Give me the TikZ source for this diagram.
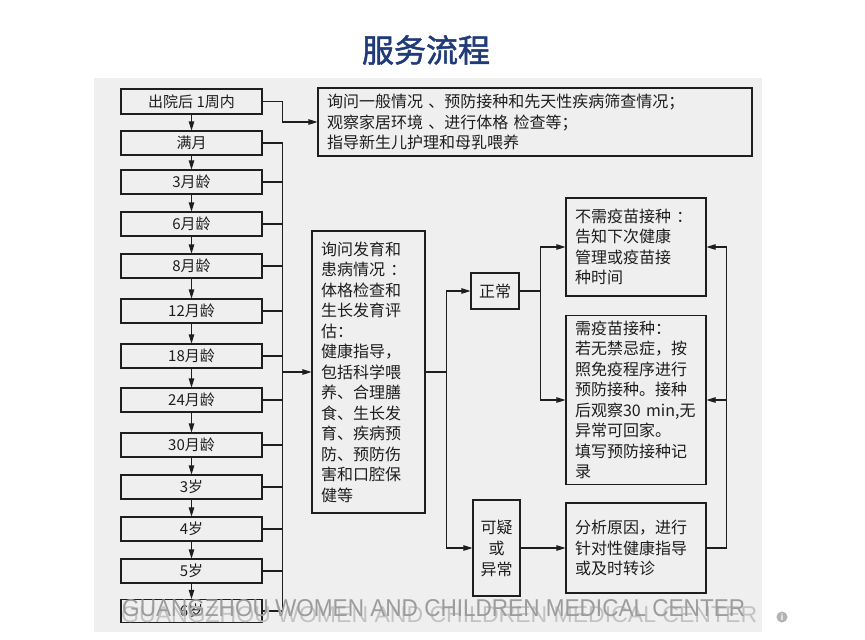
\documentclass[tikz,border=0pt]{standalone}
\usepackage{fontspec}
\setmainfont{Noto Sans CJK SC}
\newfontfamily\titlefont{Noto Sans CJK SC}[FakeBold=1.6]
\newfontfamily\wmfont{Liberation Sans}
\usetikzlibrary{arrows.meta,calc}
\definecolor{panelgray}{HTML}{EFEFEF}
\definecolor{titleblue}{HTML}{213B78}
\definecolor{inkc}{HTML}{1E1E1E}
\definecolor{wmgray}{HTML}{9C9C9C}
\definecolor{wmlight}{HTML}{C2C2C2}
\tikzset{
  box/.style={draw=inkc, line width=1.1pt, fill=panelgray, inner sep=0pt, text=inkc},
  agebox/.style={box, minimum width=141pt, minimum height=24pt, font=\fontsize{15pt}{18pt}\selectfont},
  txtbox/.style={box, align=left, inner xsep=9pt, inner ysep=0pt, font=\fontsize{16pt}{20.5pt}\selectfont},
  smallbox/.style={box, align=center, font=\fontsize{16pt}{21pt}\selectfont},
  ln/.style={draw=inkc, line width=1.1pt},
  arr/.style={ln, -{Triangle[length=9pt,width=5.5pt]}}
}
\begin{document}
\begin{tikzpicture}[x=1pt,y=-1pt]
\useasboundingbox (0,0) rectangle (865,640);
\fill[white] (0,0) rectangle (865,640);
\fill[panelgray] (94,78) rectangle (762,632);
\node[text=titleblue, font=\titlefont\fontsize{32pt}{36pt}\selectfont] (title) at (426,50) {服务流程};
% left column
\node[agebox, minimum height=25pt] (b1) at (191.5,101.5) {出院后 1周内};
\node[agebox] (b2) at (191.5,143) {满月};
\node[agebox] (b3) at (191.5,182) {3月龄};
\node[agebox] (b4) at (191.5,224) {6月龄};
\node[agebox] (b5) at (191.5,266) {8月龄};
\node[agebox] (b6) at (191.5,311) {12月龄};
\node[agebox] (b7) at (191.5,356) {18月龄};
\node[agebox] (b8) at (191.5,400) {24月龄};
\node[agebox] (b9) at (191.5,445) {30月龄};
\node[agebox] (b10) at (191.5,487) {3岁};
\node[agebox] (b11) at (191.5,529) {4岁};
\node[agebox] (b12) at (191.5,571) {5岁};
\node[agebox, minimum height=23pt] (b13) at (191.5,611) {6岁};
\foreach \a/\b in {b1/b2,b2/b3,b3/b4,b4/b5,b5/b6,b6/b7,b7/b8,b8/b9,b9/b10,b10/b11,b11/b12,b12/b13}
  \draw[arr] (\a.south) -- (\b.north);
% top box
\node[txtbox, text width=416pt, minimum height=68pt] (top) at (535,122)
 {询问一般情况 、预防接种和先天性疾病筛查情况；\\观察家居环境 、进行体格 检查等；\\指导新生儿护理和母乳喂养};
\draw[arr] (b1.east) -- ++(20,0) |- (top.west);
% middle box
\node[txtbox, text width=95pt, minimum height=282pt] (mid) at (368.5,372)
 {询问发育和\\患病情况 ：\\体格检查和\\生长发育评\\估：\\健康指导，\\包括科学喂\\养、合理膳\\食、生长发\\育、疾病预\\防、预防伤\\害和口腔保\\健等};
% bus
\draw[ln] (b2.east) -- ++(20,0) coordinate (bt);
\foreach \k in {b3,b4,b5,b6,b7,b8,b9,b10,b11,b12,b13}
  \draw[ln] (\k.east) -- (\k.east -| bt);
\draw[ln] (bt) -- (bt |- b13.east);
\draw[arr] (bt |- mid.west) -- (mid.west);
% outcomes
\node[smallbox, minimum width=48pt, minimum height=36pt] (zc) at (495,291) {正常};
\node[smallbox, minimum width=47pt, minimum height=96pt] (ky) at (496.5,548) {可疑\\或\\异常};
\draw[ln] (mid.east) -- ++(21,0) coordinate (m2);
\draw[arr] (m2) |- (zc.west);
\draw[arr] (m2) |- (ky.west);
% right boxes
\node[txtbox, text width=122pt, minimum height=98pt] (nv) at (636,247)
 {不需疫苗接种 ：\\告知下次健康\\管理或疫苗接\\种时间};
\node[txtbox, text width=122pt, minimum height=169pt] (vac) at (636,400)
 {需疫苗接种：\\若无禁忌症，按\\照免疫程序进行\\预防接种。接种\\后观察30 min,无\\异常可回家。\\填写预防接种记\\录};
\node[txtbox, text width=122pt, minimum height=90pt] (ana) at (636,548)
 {分析原因，进行\\针对性健康指导\\或及时转诊};
\draw[ln] (zc.east) -- ++(21,0) coordinate (z2);
\draw[arr] (z2) |- (nv.west);
\draw[arr] (z2) |- (vac.west);
\draw[arr] (ky.east) -- (ana.west);
\draw[ln] (ana.east) -- ++(20,0) coordinate (a2) -- (a2 |- nv.east);
\draw[arr] (a2 |- nv.east) -- (nv.east);
\draw[arr] (a2 |- vac.east) -- (vac.east);
% watermark
\node[anchor=south west, inner sep=0pt, text=wmlight] (wm2) at (121,623)
 {\resizebox{636pt}{16pt}{\wmfont GUANGZHOU WOMEN AND CHILDREN MEDICAL CENTER}};
\node[anchor=south west, inner sep=0pt, text=wmgray] (wm1) at (122,617)
 {\resizebox{623pt}{17pt}{\wmfont GUANGZHOU WOMEN AND CHILDREN MEDICAL CENTER}};
\node[circle, fill=black!30, text=white, inner sep=0pt, minimum size=11pt, font=\wmfont\fontsize{9pt}{9pt}\selectfont\bfseries] (info) at (782,617) {i};
\end{tikzpicture}
\end{document}
